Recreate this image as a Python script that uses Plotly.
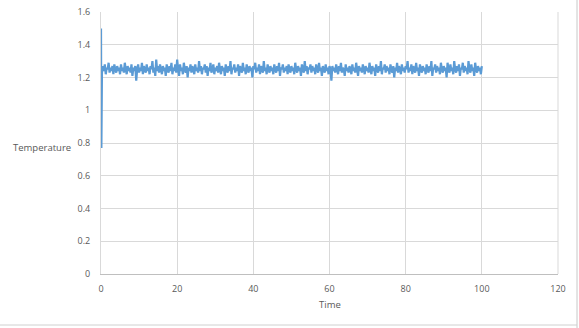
import plotly.graph_objects as go

# ---- data ----
start_time = [0.0, 0.1]
start_temp = [1.50, 0.77]

time_step = 0.25
band_temp = [
    1.23,1.27,1.24,1.28,1.22,1.26,1.25,1.29,1.23,1.26,1.24,1.27,1.22,1.28,1.25,1.23,1.27,1.24,1.26,1.22,
    1.28,1.24,1.26,1.23,1.29,1.25,1.22,1.27,1.24,1.26,1.23,1.28,1.21,1.26,1.24,1.27,1.18,1.25,1.28,1.23,
    1.26,1.24,1.29,1.22,1.27,1.25,1.23,1.28,1.24,1.26,1.22,1.27,1.25,1.30,1.23,1.26,1.21,1.31,1.24,1.27,
    1.23,1.28,1.25,1.22,1.27,1.24,1.26,1.21,1.28,1.25,1.23,1.27,1.24,1.29,1.22,1.26,1.24,1.28,1.23,1.31,
    1.25,1.21,1.28,1.24,1.26,1.22,1.29,1.25,1.23,1.27,1.20,1.26,1.24,1.28,1.23,1.27,1.25,1.22,1.28,1.24,
    1.26,1.23,1.30,1.24,1.27,1.22,1.26,1.25,1.28,1.23,1.27,1.21,1.26,1.24,1.29,1.23,1.25,1.28,1.22,1.26,
    1.24,1.27,1.23,1.29,1.25,1.22,1.27,1.24,1.26,1.21,1.28,1.25,1.23,1.27,1.24,1.30,1.22,1.26,1.25,1.28,
    1.23,1.26,1.24,1.28,1.21,1.27,1.25,1.23,1.29,1.24,1.26,1.22,1.28,1.25,1.23,1.27,1.24,1.26,1.20,1.27,
    1.25,1.29,1.23,1.26,1.24,1.28,1.22,1.27,1.25,1.23,1.30,1.24,1.26,1.22,1.28,1.25,1.23,1.27,1.24,1.26,
    1.22,1.28,1.25,1.23,1.27,1.24,1.29,1.21,1.26,1.25,1.28,1.23,1.26,1.24,1.27,1.22,1.28,1.25,1.23,1.27,
    1.24,1.26,1.22,1.29,1.25,1.23,1.27,1.24,1.26,1.21,1.28,1.25,1.23,1.30,1.24,1.27,1.22,1.26,1.25,1.28,
    1.23,1.27,1.24,1.26,1.22,1.28,1.25,1.23,1.29,1.24,1.26,1.21,1.27,1.25,1.23,1.28,1.24,1.26,1.22,1.27,
    1.25,1.18,1.27,1.24,1.26,1.23,1.28,1.25,1.22,1.27,1.24,1.29,1.23,1.26,1.25,1.21,1.28,1.24,1.26,1.23,
    1.27,1.25,1.22,1.28,1.24,1.26,1.23,1.29,1.25,1.21,1.27,1.24,1.26,1.23,1.28,1.25,1.22,1.27,1.24,1.26,
    1.23,1.29,1.25,1.22,1.27,1.24,1.26,1.21,1.28,1.25,1.23,1.27,1.24,1.30,1.22,1.26,1.25,1.28,1.23,1.27,
    1.24,1.26,1.22,1.28,1.25,1.23,1.27,1.20,1.26,1.24,1.29,1.23,1.27,1.25,1.22,1.28,1.24,1.26,1.23,1.27,
    1.25,1.30,1.23,1.26,1.24,1.28,1.22,1.27,1.25,1.23,1.29,1.24,1.26,1.21,1.28,1.25,1.23,1.27,1.24,1.26,
    1.22,1.28,1.25,1.23,1.27,1.24,1.30,1.21,1.26,1.25,1.28,1.23,1.27,1.24,1.26,1.22,1.29,1.25,1.23,1.27,
    1.24,1.26,1.20,1.29,1.25,1.23,1.28,1.24,1.26,1.22,1.30,1.25,1.23,1.27,1.24,1.28,1.21,1.26,1.25,1.29,
    1.23,1.27,1.24,1.26,1.22,1.30,1.25,1.23,1.28,1.24,1.26,1.21,1.29,1.25,1.23,1.27,1.24,1.26,1.22,1.27,
]

x_ticks = [0, 20, 40, 60, 80, 100, 120]
y_ticks = [0, 0.2, 0.4, 0.6, 0.8, 1.0, 1.2, 1.4, 1.6]
y_tick_text = ["0", "0.2", "0.4", "0.6", "0.8", "1", "1.2", "1.4", "1.6"]

band_time = [round((i + 1) * time_step, 4) for i in range(len(band_temp))]
time = start_time + band_time
temp = start_temp + band_temp

FONT = "Open Sans"
GREY = "#595959"

fig = go.Figure()
fig.add_trace(go.Scatter(
    x=time, y=temp, mode="lines",
    line=dict(color="#5B9BD5", width=2.2, simplify=False),
    showlegend=False, hoverinfo="skip",
))

fig.update_layout(
    width=579, height=328,
    margin=dict(l=101, r=21, t=12, b=54, autoexpand=False),
    paper_bgcolor="white", plot_bgcolor="white",
    font=dict(family=FONT, size=9, color=GREY),
    xaxis=dict(
        range=[0, 120], tickvals=x_ticks, ticktext=[str(v) for v in x_ticks],
        showgrid=True, gridcolor="#d9d9d9", gridwidth=1,
        zeroline=False, showline=True, linecolor="#bfbfbf", linewidth=1,
        ticks="", ticklabelstandoff=6, mirror=False, automargin=False,
    ),
    yaxis=dict(
        range=[0, 1.6], tickvals=y_ticks, ticktext=y_tick_text,
        showgrid=True, gridcolor="#d9d9d9", gridwidth=1,
        zeroline=False, showline=True, linecolor="#d9d9d9", linewidth=1,
        ticks="", ticklabelstandoff=8, automargin=False,
    ),
    annotations=[
        dict(text="Temperature", xref="paper", yref="y", x=-0.062, y=0.77,
             xanchor="right", yanchor="middle", showarrow=False,
             font=dict(family=FONT, size=9.5, color=GREY)),
        dict(text="Time", xref="x", yref="paper", x=60, y=-0.118,
             xanchor="center", yanchor="middle", showarrow=False,
             font=dict(family=FONT, size=9.5, color=GREY)),
    ],
    shapes=[
        dict(type="line", xref="paper", yref="paper", x0=1.0, x1=1.0,
             y0=1.0, y1=0.0, line=dict(color="#d9d9d9", width=1)),
        dict(type="line", xref="paper", yref="paper",
             x0=(577 - 101) / 457, x1=(577 - 101) / 457,
             y0=12 / 262 + 1.0, y1=-54 / 262,
             line=dict(color="#c8c8c8", width=1)),
        dict(type="line", xref="paper", yref="paper",
             x0=-101 / 457, x1=(577 - 101) / 457,
             y0=-(325 - 274) / 262, y1=-(325 - 274) / 262,
             line=dict(color="#d0d0d0", width=1)),
    ],
)

fig.write_html("out.html")
